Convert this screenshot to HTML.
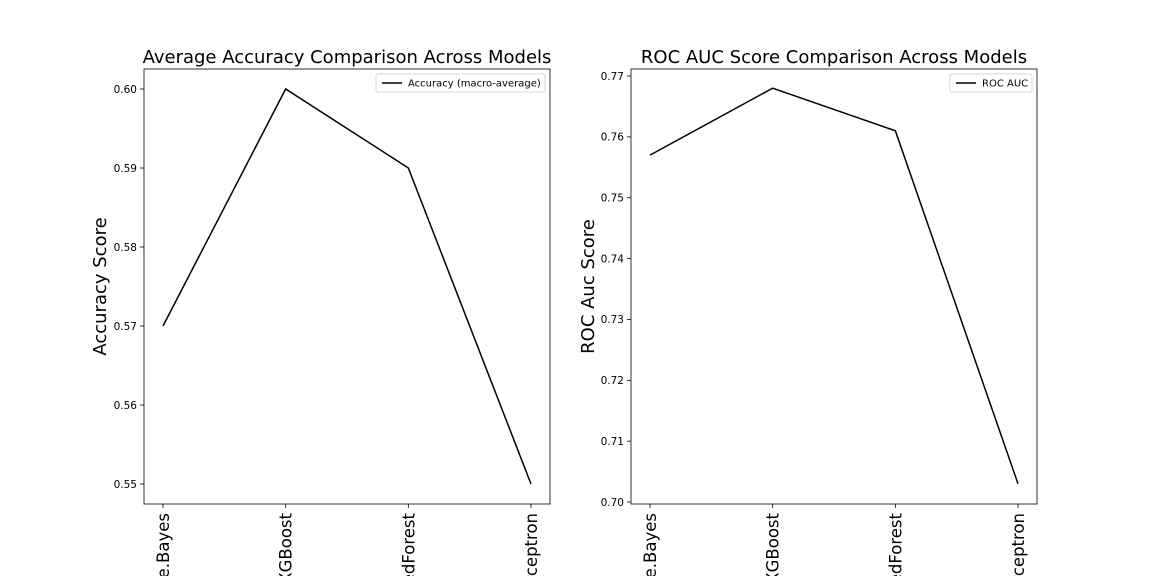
<!DOCTYPE html>
<html><head><meta charset="utf-8"><style>
html,body{margin:0;padding:0;background:#fff;width:1152px;height:576px;overflow:hidden;}
svg{display:block;font-family:"DejaVu Sans","Liberation Sans",sans-serif;overflow:hidden;}
</style></head><body>
<svg id="s" width="1152" height="576" viewBox="0 0 1152 576"></svg>
<script>
const categories = ["Naive.Bayes","XGBoost","RandomizedForest","Perceptron"];
const accValues = [0.57,0.60,0.59,0.55];
const accTicks = [0.55,0.56,0.57,0.58,0.59,0.60];
const accTickLabels = ["0.55","0.56","0.57","0.58","0.59","0.60"];
const rocValues = [0.757,0.768,0.761,0.703];
const rocTicks = [0.70,0.71,0.72,0.73,0.74,0.75,0.76,0.77];
const rocTickLabels = ["0.70","0.71","0.72","0.73","0.74","0.75","0.76","0.77"];

const NS="http://www.w3.org/2000/svg";
const svg=document.getElementById('s');
function mk(tag,attrs,parent,text){const e=document.createElementNS(NS,tag);for(const k in attrs)e.setAttribute(k,attrs[k]);if(text!==undefined)e.textContent=text;(parent||svg).appendChild(e);return e;}

function chart(cfg){
  const g=mk('g',{});
  
  
  const L=cfg.left,R=cfg.right,T=69,B=504;
  const xs=i=>L+19+i*(R-L-38)/(categories.length-1);
  const ys=v=>cfg.y0+(v-cfg.v0)*(cfg.y1-cfg.y0)/(cfg.v1-cfg.v0);
  const t=mk('text',{x:(L+R)/2,y:63,'text-anchor':'middle','font-size':18,fill:'#000'},g,cfg.title);
  
  
  cfg.ticks.forEach((v,i)=>{
    const y=ys(v);
    mk('line',{x1:L-4,x2:L,y1:y,y2:y,stroke:'#000','stroke-width':0.8},g);
    const tl=mk('text',{x:L-7,y:y+3.8,'text-anchor':'end','font-size':10.5,fill:'#000'},g,cfg.tickLabels[i]);
    
    
  });
  categories.forEach((c,i)=>{
    const x=xs(i);
    mk('line',{x1:x,x2:x,y1:B,y2:B+4,stroke:'#000','stroke-width':0.8},g);
    const tl=mk('text',{transform:`translate(${x+6},${B+9}) rotate(-90)`,'text-anchor':'end','font-size':16.5,fill:'#000'},g,c);
    
    
  });
  const yl=mk('text',{transform:`translate(${cfg.ylx},${(T+B)/2}) rotate(-90)`,'text-anchor':'middle','font-size':18,fill:'#000'},g,cfg.ylabel);
  
  
  const pts=cfg.values.map((v,i)=>xs(i)+','+ys(v)).join(' ');
  const pl=mk('polyline',{points:pts,fill:'none',stroke:'#000','stroke-width':1.5},g);
  
  
  const fr=mk('rect',{x:L,y:T,width:R-L,height:B-T,fill:'none',stroke:'#000','stroke-width':0.8},g);
  
  
  const lg=mk('g',{},g);
  
  
  mk('rect',{x:cfg.legX,y:74,width:R-5-cfg.legX,height:18,rx:2,fill:'#fff',stroke:'#ccc','stroke-width':0.8},lg);
  mk('line',{x1:cfg.legX+6,x2:cfg.legX+26,y1:83,y2:83,stroke:'#000','stroke-width':1.5},lg);
  mk('text',{x:cfg.legX+32,y:86.5,'font-size':10,fill:'#000'},lg,cfg.legend);
}
chart({name:'accuracy-chart',left:144,right:550,title:'Average Accuracy Comparison Across Models',ylabel:'Accuracy Score',ylx:106,
  values:accValues,ticks:accTicks,tickLabels:accTickLabels,v0:0.55,v1:0.60,y0:484,y1:89,legX:376,legend:'Accuracy (macro-average)'});
chart({name:'roc-auc-chart',left:631,right:1037,title:'ROC AUC Score Comparison Across Models',ylabel:'ROC Auc Score',ylx:594,
  values:rocValues,ticks:rocTicks,tickLabels:rocTickLabels,v0:0.70,v1:0.77,y0:502,y1:76,legX:950,legend:'ROC AUC'});
</script>
</body></html>
